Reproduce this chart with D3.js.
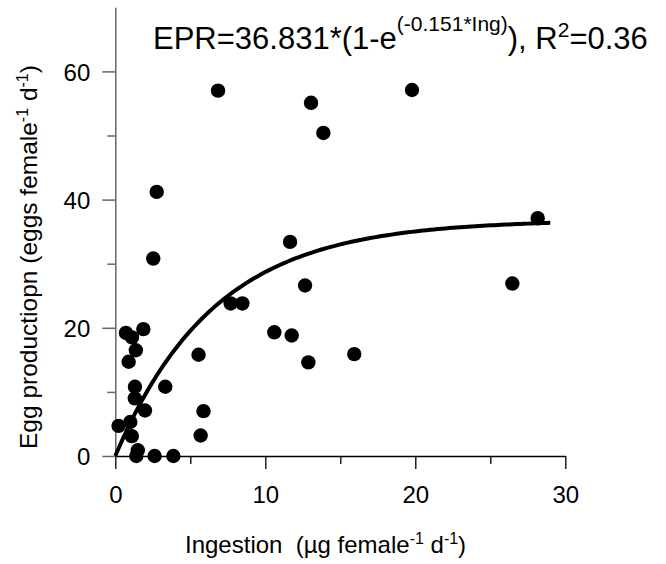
<!DOCTYPE html>
<html>
<head>
<meta charset="utf-8">
<script src="https://cdn.jsdelivr.net/npm/d3@7"></script>
<style>
  html, body { margin: 0; padding: 0; background: #fff; }
  svg { display: block; font-family: "Liberation Sans", Arial, sans-serif; }
  text { white-space: pre; }
</style>
</head>
<body>
<svg id="chart" width="666" height="564"></svg>
<script>
// Ingestion (µg female^-1 d^-1) for each female
const ingestion = [
  0.22, 0.71, 1.11, 1.87, 1.37, 0.89, 1.31, 3.33, 1.30, 1.98,
  1.00, 1.10, 1.50, 1.40, 2.62, 3.87, 5.55, 5.88, 5.69, 7.69,
  8.47, 10.6, 11.76, 12.87, 11.65, 12.65, 15.93, 26.47, 28.16, 2.53,
  2.76, 6.85, 13.05, 13.87, 19.78
];
// Egg production (eggs female^-1 d^-1), same order
const eggProduction = [
  4.7, 19.2, 18.5, 19.8, 16.5, 14.7, 10.8, 10.8, 9.0, 7.1,
  5.3, 3.1, 0.9, 0.0, 0.0, 0.0, 15.8, 7.0, 3.2, 23.8,
  23.8, 19.3, 18.8, 14.6, 33.4, 26.6, 15.9, 26.9, 37.1, 30.8,
  41.2, 57.0, 55.1, 50.4, 57.1
];
// Fitted model EPR = a * (1 - exp(-b * Ing))
const fitA = 36.831;
const fitB = 0.151;
const fitR2 = 0.36;
const fitRange = [0, 29];

const xTicks = [0, 5, 10, 15, 20, 25, 30];
const yTicks = [0, 10, 20, 30, 40, 50, 60];

const svg = d3.select("#chart");

const x = d3.scaleLinear().domain([0, 30]).range([115.3, 565.3]);
const y = d3.scaleLinear().domain([0, 70]).range([456, 7.3]);

// X axis
const gx = svg.append("g")
  .attr("transform", `translate(0,${y(0)})`)
  .call(d3.axisBottom(x).tickValues(xTicks).tickSizeInner(13).tickSizeOuter(0).tickFormat(d3.format("d")));
gx.select(".domain").attr("stroke", "#000").attr("stroke-width", 1.3);
gx.selectAll(".tick line").attr("stroke", "#000").attr("stroke-width", 1.3);
gx.selectAll(".tick text")
  .attr("y", 47).attr("dy", 0)
  .attr("font-size", 24).attr("fill", "#000")
  .attr("font-family", "Liberation Sans, Arial, sans-serif");
gx.selectAll(".tick").filter(d => d % 10 !== 0)
  .call(t => { t.select("line").attr("y2", 8); t.select("text").remove(); });

// Y axis
const gy = svg.append("g")
  .attr("transform", `translate(${x(0)},0)`)
  .call(d3.axisLeft(y).tickValues(yTicks).tickSizeInner(13).tickSizeOuter(0).tickFormat(d3.format("d")));
gy.select(".domain").attr("stroke", "#666").attr("stroke-width", 1.5);
gy.selectAll(".tick line").attr("stroke", "#666").attr("stroke-width", 1.5);
gy.selectAll(".tick text")
  .attr("x", -25).attr("dy", "0.36em")
  .attr("font-size", 24).attr("fill", "#000")
  .attr("font-family", "Liberation Sans, Arial, sans-serif");
gy.selectAll(".tick").filter(d => d % 20 !== 0)
  .call(t => { t.select("line").attr("x2", -8); t.select("text").remove(); });

// Fitted curve
const curveXs = d3.range(fitRange[0], fitRange[1] + 0.0001, 0.25);
const line = d3.line()
  .x(d => x(d))
  .y(d => y(fitA * (1 - Math.exp(-fitB * d))));
svg.append("path")
  .datum(curveXs)
  .attr("d", line)
  .attr("fill", "none")
  .attr("stroke", "#000")
  .attr("stroke-width", 4);

// Observations
svg.append("g")
  .selectAll("circle")
  .data(ingestion.map((v, i) => ({ ing: v, epr: eggProduction[i] })))
  .join("circle")
  .attr("cx", d => x(d.ing))
  .attr("cy", d => y(d.epr))
  .attr("r", 7.2)
  .attr("fill", "#000");

// Equation label
const eq = svg.append("text")
  .attr("x", 153).attr("y", 49)
  .attr("font-size", 31).attr("fill", "#000");
eq.append("tspan").text(`EPR=${fitA}*(1-e`);
eq.append("tspan").attr("font-size", 21).attr("dy", -18).text(`(-${fitB}*Ing)`);
eq.append("tspan").attr("dy", 18).text("), R");
eq.append("tspan").attr("font-size", 21).attr("dy", -12).text("2");
eq.append("tspan").attr("dy", 12).text(`=${fitR2}`);

// Axis titles
const xt = svg.append("text")
  .attr("x", 185).attr("y", 553)
  .attr("font-size", 24).attr("fill", "#000");
xt.append("tspan").text("Ingestion  (µg female");
xt.append("tspan").attr("font-size", 16).attr("dy", -9).text("-1");
xt.append("tspan").attr("dy", 9).text(" d");
xt.append("tspan").attr("font-size", 16).attr("dy", -9).text("-1");
xt.append("tspan").attr("dy", 9).text(")");

const yt = svg.append("text")
  .attr("transform", "translate(37,449) rotate(-90)")
  .attr("x", 0).attr("y", 0)
  .attr("font-size", 24.5).attr("fill", "#000");
yt.append("tspan").text("Egg productiopn (eggs female");
yt.append("tspan").attr("font-size", 16).attr("dy", -9).text("-1");
yt.append("tspan").attr("dy", 9).text(" d");
yt.append("tspan").attr("font-size", 16).attr("dy", -9).text("-1");
yt.append("tspan").attr("dy", 9).text(")");
</script>
</body>
</html>
